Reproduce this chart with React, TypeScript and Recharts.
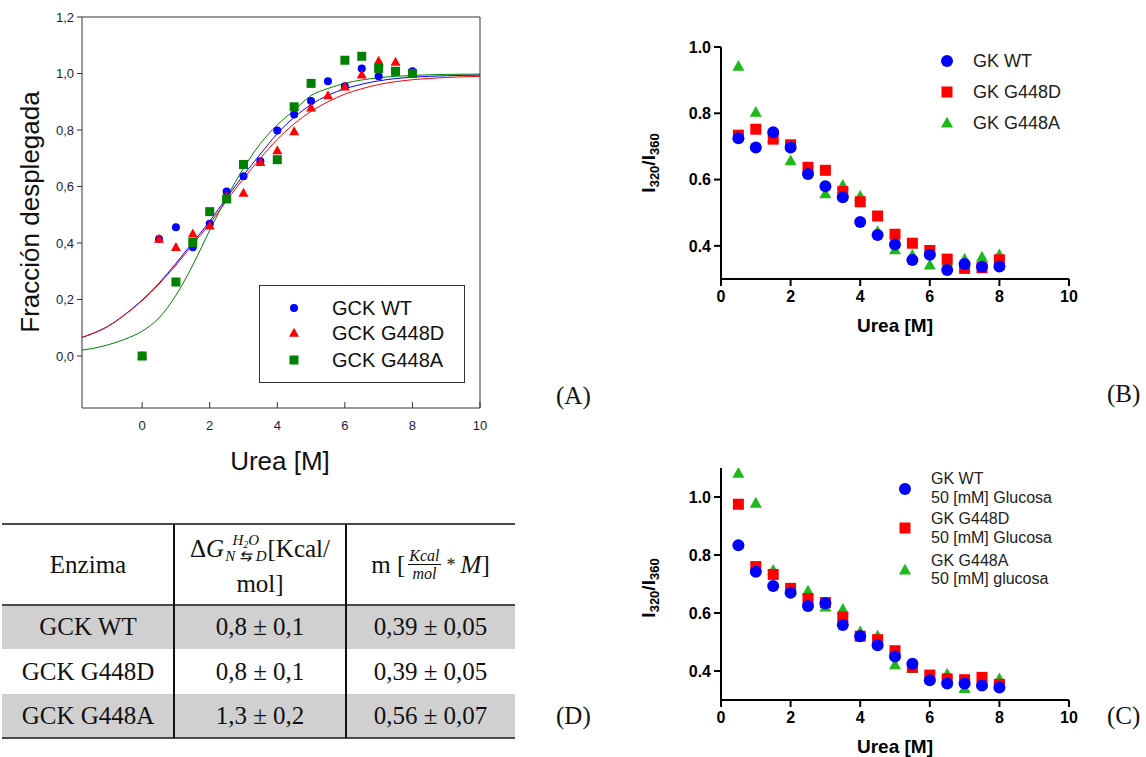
import React from 'react';
import { ComposedChart, ScatterChart, Scatter, Line, XAxis, YAxis, ReferenceLine, Legend } from 'recharts';

// ---------------- Panel A : fraction unfolded ----------------
const ureaA = [0, 0.5, 1, 1.5, 2, 2.5, 3, 3.5, 4, 4.5, 5, 5.5, 6, 6.5, 7, 7.5, 8];
const fracWT_A = [0, 0.414, 0.456, 0.385, 0.468, 0.582, 0.636, 0.689, 0.798, 0.855, 0.903, 0.973, 0.955, 1.018, 0.99, 1.006, 1.008];
const fracG448D_A = [0, 0.414, 0.385, 0.433, 0.461, 0.565, 0.577, 0.686, 0.728, 0.795, 0.879, 0.922, 0.953, 0.996, 1.044, 1.041, 1.0];
const ureaA_G448A = [0, 1, 1.5, 2, 2.5, 3, 4, 4.5, 5, 6, 6.5, 7, 7.5, 8];
const fracG448A_A = [0, 0.262, 0.402, 0.511, 0.556, 0.678, 0.695, 0.882, 0.965, 1.047, 1.061, 1.018, 1.008, 1.0];

const ureaFit = [-1.78, -1.5, -1, -0.5, 0, 0.5, 1, 1.5, 2, 2.5, 3, 3.5, 4, 4.5, 5, 5.5, 6, 6.5, 7, 7.5, 8, 9, 10];
const fitWT = [0.066, 0.078, 0.106, 0.148, 0.198, 0.258, 0.328, 0.402, 0.477, 0.56, 0.64, 0.715, 0.787, 0.845, 0.89, 0.923, 0.946, 0.962, 0.974, 0.982, 0.987, 0.992, 0.994];
const fitG448D = [0.066, 0.078, 0.106, 0.147, 0.196, 0.255, 0.322, 0.395, 0.468, 0.55, 0.628, 0.7, 0.767, 0.822, 0.866, 0.9, 0.927, 0.946, 0.961, 0.971, 0.978, 0.986, 0.99];
const fitG448A = [0.021, 0.026, 0.04, 0.06, 0.088, 0.135, 0.215, 0.322, 0.445, 0.56, 0.665, 0.752, 0.818, 0.87, 0.922, 0.947, 0.965, 0.977, 0.985, 0.99, 0.993, 0.997, 0.998];

const ticksA_X = [0, 2, 4, 6, 8, 10];
const ticksA_Y = [0, 0.2, 0.4, 0.6, 0.8, 1.0, 1.2];
const namesA = ['GCK WT', 'GCK G448D', 'GCK G448A'];

// ---------------- Panel B : I320/I360 ----------------
const ureaBC = [0.5, 1, 1.5, 2, 2.5, 3, 3.5, 4, 4.5, 5, 5.5, 6, 6.5, 7, 7.5, 8];
const ratioWT_B = [0.725, 0.697, 0.743, 0.697, 0.617, 0.58, 0.547, 0.472, 0.433, 0.404, 0.357, 0.373, 0.327, 0.345, 0.337, 0.338];
const ratioG448D_B = [0.734, 0.752, 0.722, 0.705, 0.637, 0.628, 0.564, 0.533, 0.49, 0.435, 0.408, 0.386, 0.36, 0.332, 0.334, 0.358];
const ratioG448A_B = [0.942, 0.803, 0.725, 0.657, 0.63, 0.557, 0.583, 0.55, 0.443, 0.388, 0.372, 0.342, 0.352, 0.36, 0.366, 0.373];
const namesB = ['GK WT', 'GK G448D', 'GK G448A'];

// ---------------- Panel C : I320/I360 + 50 mM glucose ----------------
const ratioWT_C = [0.834, 0.742, 0.693, 0.67, 0.624, 0.634, 0.559, 0.52, 0.489, 0.45, 0.425, 0.368, 0.357, 0.357, 0.35, 0.343];
const ratioG448D_C = [0.975, 0.76, 0.733, 0.685, 0.65, 0.636, 0.586, 0.52, 0.508, 0.47, 0.413, 0.386, 0.373, 0.37, 0.378, 0.354];
const ratioG448A_C = [1.082, 0.979, 0.747, 0.678, 0.676, 0.621, 0.613, 0.535, 0.521, 0.422, 0.409, 0.38, 0.39, 0.34, 0.36, 0.373];
const namesC = [
  ['GK WT', '50 [mM] Glucosa'],
  ['GK G448D', '50 [mM] Glucosa'],
  ['GK G448A', '50 [mM] glucosa'],
];
const ticksBC_X = [0, 2, 4, 6, 8, 10];
const ticksB_Y = [0.4, 0.6, 0.8, 1.0];
const ticksC_Y = [0.4, 0.6, 0.8, 1.0];

// ---------------- Panel D : table ----------------
const tableEnzymes = ['GCK WT', 'GCK G448D', 'GCK G448A'];
const tableDeltaG = ['0,8 ± 0,1', '0,8 ± 0,1', '1,3 ± 0,2'];
const tableM = ['0,39 ± 0,05', '0,39 ± 0,05', '0,56 ± 0,07'];

// ---------------- helpers ----------------
const pts = (xs: number[], ys: number[]) => xs.map((x, i) => ({ x, y: ys[i] }));

const SANS = '"Liberation Sans", Arial, sans-serif';
const SERIF = '"Liberation Serif", "Times New Roman", serif';
const AX_A = '#333';
const TICK_A = '#1c1c3a';

const BLUE = '#0000ff';
const RED = '#ff0000';
const DKGREEN = '#008000';
const GREEN = '#1cb81c';

function Marker({ kind, cx, cy, size, color }: any) {
  if (cx == null || cy == null || isNaN(cx) || isNaN(cy)) return null;
  if (kind === 'circle') return <circle cx={cx} cy={cy} r={size / 2} fill={color} />;
  if (kind === 'square') return <rect x={cx - size / 2} y={cy - size / 2} width={size} height={size} fill={color} />;
  const h = size * 0.9;
  return (
    <polygon
      points={`${cx},${cy - h * 0.58} ${cx - size / 2},${cy + h * 0.42} ${cx + size / 2},${cy + h * 0.42}`}
      fill={color}
    />
  );
}
const shapeOf = (kind: string, size: number, color: string) => (p: any) => (
  <Marker kind={kind} cx={p.cx} cy={p.cy} size={size} color={color} />
);

const commaFmt = (v: number) => v.toFixed(1).replace('.', ',');

function TickA(props: any) {
  const { x, y, payload } = props;
  return (
    <g>
      <line x1={x} x2={x} y1={y} y2={y - 6} stroke={AX_A} strokeWidth={1} />
      <text x={x} y={y + 17} textAnchor="middle" dominantBaseline="central" fontSize={13} fill={TICK_A} fontFamily={SANS}>
        {payload.value}
      </text>
    </g>
  );
}

// ---------------- Chart A ----------------
function ChartA() {
  const legendA = () => {
    const kinds = [
      ['circle', 8, BLUE],
      ['triangle', 10, RED],
      ['square', 9, DKGREEN],
    ] as any[];
    const rowsY = [23, 48, 75];
    return (
      <svg width={206} height={98} style={{ display: 'block' }}>
        <rect x={0.5} y={0.5} width={205} height={97} fill="#fff" stroke="#333" strokeWidth={1} />
        {namesA.map((n, i) => (
          <g key={n}>
            <Marker kind={kinds[i][0]} cx={35} cy={rowsY[i]} size={kinds[i][1]} color={kinds[i][2]} />
            <text x={73} y={rowsY[i]} dominantBaseline="central" fontSize={20} fontFamily={SANS} fill="#111">
              {n}
            </text>
          </g>
        ))}
      </svg>
    );
  };
  return (
    <ComposedChart width={500} height={480} margin={{ top: 17, right: 20, bottom: 0, left: 0 }}>
      <XAxis
        dataKey="x"
        type="number"
        domain={[-1.78, 10]}
        allowDataOverflow
        ticks={ticksA_X}
        interval={0}
        tickSize={0}
        tickMargin={0}
        tickLine={false}
        tick={TickA}
        axisLine={{ stroke: AX_A, strokeWidth: 1 }}
        height={72}
        label={() => (
          <text x={280} y={461} textAnchor="middle" dominantBaseline="central" fontSize={26} fontFamily={SANS} fill="#111">
            Urea [M]
          </text>
        )}
      />
      <YAxis
        dataKey="y"
        type="number"
        domain={[-0.184, 1.2]}
        allowDataOverflow
        ticks={ticksA_Y}
        interval={0}
        width={82}
        tickSize={5}
        tickMargin={3}
        tickFormatter={commaFmt}
        tick={{ fill: TICK_A, fontSize: 13, fontFamily: SANS }}
        tickLine={{ stroke: AX_A }}
        axisLine={{ stroke: AX_A }}
        label={() => (
          <text
            transform="translate(30,212) rotate(-90)"
            x={0}
            y={0}
            textAnchor="middle"
            dominantBaseline="central"
            fontSize={26}
            fontFamily={SANS}
            fill="#111"
          >
            Fracción desplegada
          </text>
        )}
      />
      <ReferenceLine y={1.2} stroke={AX_A} strokeWidth={1} />
      <ReferenceLine x={10} stroke={AX_A} strokeWidth={1} />
      <Line data={pts(ureaFit, fitG448A)} dataKey="y" type="monotone" stroke={DKGREEN} strokeWidth={1} dot={false} activeDot={false} isAnimationActive={false} />
      <Line data={pts(ureaFit, fitWT)} dataKey="y" type="monotone" stroke={BLUE} strokeWidth={1} dot={false} activeDot={false} isAnimationActive={false} />
      <Line data={pts(ureaFit, fitG448D)} dataKey="y" type="monotone" stroke={RED} strokeWidth={1} dot={false} activeDot={false} isAnimationActive={false} />
      <Scatter name={namesA[0]} data={pts(ureaA, fracWT_A)} fill={BLUE} shape={shapeOf('circle', 8, BLUE)} isAnimationActive={false} />
      <Scatter name={namesA[1]} data={pts(ureaA, fracG448D_A)} fill={RED} shape={shapeOf('triangle', 10, RED)} isAnimationActive={false} />
      <Scatter name={namesA[2]} data={pts(ureaA_G448A, fracG448A_A)} fill={DKGREEN} shape={shapeOf('square', 9, DKGREEN)} isAnimationActive={false} />
      <Legend
        layout="horizontal"
        verticalAlign="middle"
        align="center"
        wrapperStyle={{ left: 259, top: 285, width: 206, height: 98 }}
        content={legendA}
      />
    </ComposedChart>
  );
}

// ---------------- Charts B & C ----------------
function YRatioLabel(cx: number, cy: number) {
  return () => (
    <text
      transform={`translate(${cx},${cy}) rotate(-90)`}
      x={0}
      y={7}
      textAnchor="middle"
      fontSize={19}
      fontWeight="bold"
      fontFamily={SANS}
      fill="#000"
    >
      I<tspan fontSize={13} dy={4}>320</tspan>
      <tspan dy={-4}>/I</tspan>
      <tspan fontSize={13} dy={4}>360</tspan>
    </text>
  );
}

function XUreaLabel(cx: number, cy: number) {
  return () => (
    <text x={cx} y={cy} textAnchor="middle" dominantBaseline="central" fontSize={19} fontWeight="bold" fontFamily={SANS} fill="#000">
      Urea [M]
    </text>
  );
}

const axisStyleBC = { stroke: '#000', strokeWidth: 2 };
const tickStyleBC = { fill: '#000', fontSize: 16, fontWeight: 'bold', fontFamily: SANS };

function ChartB() {
  const legendB = () => {
    const kinds = [
      ['circle', 12, BLUE],
      ['square', 11, RED],
      ['triangle', 12, GREEN],
    ] as any[];
    const rowsY = [16, 47, 78];
    return (
      <svg width={170} height={100} style={{ display: 'block' }}>
        {namesB.map((n, i) => (
          <g key={n}>
            <Marker kind={kinds[i][0]} cx={17} cy={rowsY[i]} size={kinds[i][1]} color={kinds[i][2]} />
            <text x={43} y={rowsY[i]} dominantBaseline="central" fontSize={18} fontFamily={SANS} fill="#222">
              {n}
            </text>
          </g>
        ))}
      </svg>
    );
  };
  return (
    <ScatterChart width={460} height={320} margin={{ top: 17, right: 21, bottom: 21, left: 0 }}>
      <XAxis
        dataKey="x"
        type="number"
        domain={[0, 10]}
        ticks={ticksBC_X}
        interval={0}
        allowDataOverflow
        tickSize={7}
        tickMargin={5}
        tick={tickStyleBC}
        tickLine={axisStyleBC}
        axisLine={axisStyleBC}
        height={50}
        label={XUreaLabel(265, 295)}
      />
      <YAxis
        dataKey="y"
        type="number"
        domain={[0.3, 1.0]}
        ticks={ticksB_Y}
        interval={0}
        allowDataOverflow
        width={91}
        tickSize={7}
        tickMargin={3}
        tickFormatter={(v: number) => v.toFixed(1)}
        tick={tickStyleBC}
        tickLine={axisStyleBC}
        axisLine={axisStyleBC}
        label={YRatioLabel(18, 133)}
      />
      <Scatter name={namesB[2]} data={pts(ureaBC, ratioG448A_B)} fill={GREEN} shape={shapeOf('triangle', 12, GREEN)} isAnimationActive={false} />
      <Scatter name={namesB[1]} data={pts(ureaBC, ratioG448D_B)} fill={RED} shape={shapeOf('square', 11, RED)} isAnimationActive={false} />
      <Scatter name={namesB[0]} data={pts(ureaBC, ratioWT_B)} fill={BLUE} shape={shapeOf('circle', 12, BLUE)} isAnimationActive={false} />
      <Legend
        layout="horizontal"
        verticalAlign="middle"
        align="center"
        wrapperStyle={{ left: 300, top: 15, width: 170, height: 100 }}
        content={legendB}
      />
    </ScatterChart>
  );
}

function ChartC() {
  const legendC = () => {
    const kinds = [
      ['circle', 12, BLUE],
      ['square', 11, RED],
      ['triangle', 12, GREEN],
    ] as any[];
    const markerY = [24, 63, 105];
    const textY = [
      [13, 32],
      [53, 72],
      [95, 113],
    ];
    return (
      <svg width={200} height={125} style={{ display: 'block' }}>
        {namesC.map((n, i) => (
          <g key={i}>
            <Marker kind={kinds[i][0]} cx={15} cy={markerY[i]} size={kinds[i][1]} color={kinds[i][2]} />
            <text x={41} y={textY[i][0]} dominantBaseline="central" fontSize={16} fontFamily={SANS} fill="#222">
              {n[0]}
            </text>
            <text x={41} y={textY[i][1]} dominantBaseline="central" fontSize={16} fontFamily={SANS} fill="#222">
              {n[1]}
            </text>
          </g>
        ))}
      </svg>
    );
  };
  return (
    <ScatterChart width={460} height={317} margin={{ top: 28, right: 21, bottom: 17, left: 0 }}>
      <XAxis
        dataKey="x"
        type="number"
        domain={[0, 10]}
        ticks={ticksBC_X}
        interval={0}
        allowDataOverflow
        tickSize={7}
        tickMargin={5}
        tick={tickStyleBC}
        tickLine={axisStyleBC}
        axisLine={axisStyleBC}
        height={40}
        label={XUreaLabel(265, 306)}
      />
      <YAxis
        dataKey="y"
        type="number"
        domain={[0.3, 1.1]}
        ticks={ticksC_Y}
        interval={0}
        allowDataOverflow
        width={91}
        tickSize={7}
        tickMargin={3}
        tickFormatter={(v: number) => v.toFixed(1)}
        tick={tickStyleBC}
        tickLine={axisStyleBC}
        axisLine={axisStyleBC}
        label={YRatioLabel(18, 148)}
      />
      <Scatter name={namesC[2][0]} data={pts(ureaBC, ratioG448A_C)} fill={GREEN} shape={shapeOf('triangle', 12, GREEN)} isAnimationActive={false} />
      <Scatter name={namesC[1][0]} data={pts(ureaBC, ratioG448D_C)} fill={RED} shape={shapeOf('square', 11, RED)} isAnimationActive={false} />
      <Scatter name={namesC[0][0]} data={pts(ureaBC, ratioWT_C)} fill={BLUE} shape={shapeOf('circle', 12, BLUE)} isAnimationActive={false} />
      <Legend
        layout="horizontal"
        verticalAlign="middle"
        align="center"
        wrapperStyle={{ left: 260, top: 25, width: 200, height: 125 }}
        content={legendC}
      />
    </ScatterChart>
  );
}

// ---------------- Table D ----------------
function TableD() {
  const colX = [2, 174, 346, 515];
  const rowY = [524, 605, 649, 694, 738];
  const cell = (left: number, width: number, top: number, height: number, content: React.ReactNode, key: string) => (
    <div
      key={key}
      style={{
        position: 'absolute',
        left,
        top,
        width,
        height,
        display: 'flex',
        alignItems: 'center',
        justifyContent: 'center',
        fontFamily: SERIF,
        fontSize: 25,
        color: '#111',
        whiteSpace: 'nowrap',
      }}
    >
      {content}
    </div>
  );
  const W = colX[3] - colX[0];
  return (
    <div style={{ position: 'absolute', left: 0, top: 0 }}>
      {/* gray row backgrounds */}
      <div style={{ position: 'absolute', left: colX[0], top: rowY[1], width: W, height: rowY[2] - rowY[1], background: '#d0d0d0' }} />
      <div style={{ position: 'absolute', left: colX[0], top: rowY[3], width: W, height: rowY[4] - rowY[3], background: '#d0d0d0' }} />
      {/* horizontal rules */}
      <div style={{ position: 'absolute', left: colX[0], top: rowY[0] - 1, width: W, height: 2, background: '#4a4a4a' }} />
      <div style={{ position: 'absolute', left: colX[0], top: rowY[1] - 1, width: W, height: 2, background: '#4a4a4a' }} />
      <div style={{ position: 'absolute', left: colX[0], top: rowY[4] - 1, width: W, height: 2, background: '#4a4a4a' }} />
      {/* vertical rules */}
      <div style={{ position: 'absolute', left: colX[1] - 1, top: rowY[0], width: 2, height: rowY[4] - rowY[0], background: '#111' }} />
      <div style={{ position: 'absolute', left: colX[2] - 1, top: rowY[0], width: 2, height: rowY[4] - rowY[0], background: '#111' }} />

      {/* header */}
      {cell(colX[0], colX[1] - colX[0], rowY[0], rowY[1] - rowY[0], 'Enzima', 'h0')}
      <div
        style={{
          position: 'absolute',
          left: colX[1],
          top: rowY[0] + 8,
          width: colX[2] - colX[1],
          fontFamily: SERIF,
          fontSize: 25,
          color: '#111',
          textAlign: 'center',
        }}
      >
        <div style={{ display: 'flex', justifyContent: 'center', alignItems: 'center', height: 34, whiteSpace: 'nowrap' }}>
          <span>Δ</span>
          <span style={{ fontStyle: 'italic' }}>G</span>
          <span
            style={{
              display: 'inline-flex',
              flexDirection: 'column',
              fontSize: 15,
              lineHeight: '15px',
              fontStyle: 'italic',
              marginLeft: 1,
              marginRight: 1,
              position: 'relative',
              top: -1,
            }}
          >
            <span>
              H<span style={{ fontSize: 10, position: 'relative', top: 3 }}>2</span>O
            </span>
            <span>N ⇆ D</span>
          </span>
          <span>[Kcal/</span>
        </div>
        <div style={{ height: 36, lineHeight: '36px' }}>mol]</div>
      </div>
      {cell(
        colX[2],
        colX[3] - colX[2],
        rowY[0],
        rowY[1] - rowY[0],
        <span style={{ display: 'inline-flex', alignItems: 'center' }}>
          <span>m [</span>
          <span
            style={{
              display: 'inline-flex',
              flexDirection: 'column',
              alignItems: 'center',
              fontStyle: 'italic',
              fontSize: 16,
              lineHeight: '17px',
              margin: '0 4px 0 3px',
            }}
          >
            <span style={{ borderBottom: '1px solid #111', padding: '0 1px' }}>Kcal</span>
            <span>mol</span>
          </span>
          <span style={{ fontSize: 18, margin: '0 5px 0 2px', position: 'relative', top: 1 }}>*</span>
          <span style={{ fontStyle: 'italic' }}>M</span>
          <span>]</span>
        </span>,
        'h2'
      )}

      {/* body */}
      {tableEnzymes.map((e, i) => (
        <React.Fragment key={e}>
          {cell(colX[0], colX[1] - colX[0], rowY[i + 1], rowY[i + 2] - rowY[i + 1], e, 'e' + i)}
          {cell(colX[1], colX[2] - colX[1], rowY[i + 1], rowY[i + 2] - rowY[i + 1], tableDeltaG[i], 'g' + i)}
          {cell(colX[2], colX[3] - colX[2], rowY[i + 1], rowY[i + 2] - rowY[i + 1], tableM[i], 'm' + i)}
        </React.Fragment>
      ))}
    </div>
  );
}

function PanelTag({ text, left, cy }: { text: string; left: number; cy: number }) {
  return (
    <div
      style={{
        position: 'absolute',
        left,
        top: cy - 15,
        height: 30,
        lineHeight: '30px',
        fontFamily: SERIF,
        fontSize: 25,
        color: '#111',
      }}
    >
      {text}
    </div>
  );
}

export default function App() {
  return (
    <div
      style={{
        position: 'absolute',
        left: 0,
        top: 0,
        width: 1146,
        height: 757,
        background: '#fff',
        overflow: 'hidden',
      }}
    >
      <div style={{ position: 'absolute', left: 0, top: 0 }}>
        <ChartA />
      </div>
      <div style={{ position: 'absolute', left: 630, top: 30 }}>
        <ChartB />
      </div>
      <div style={{ position: 'absolute', left: 630, top: 440 }}>
        <ChartC />
      </div>
      <TableD />
      <PanelTag text="(A)" left={556} cy={396} />
      <PanelTag text="(B)" left={1107} cy={394} />
      <PanelTag text="(C)" left={1107} cy={716} />
      <PanelTag text="(D)" left={556} cy={716} />
    </div>
  );
}
